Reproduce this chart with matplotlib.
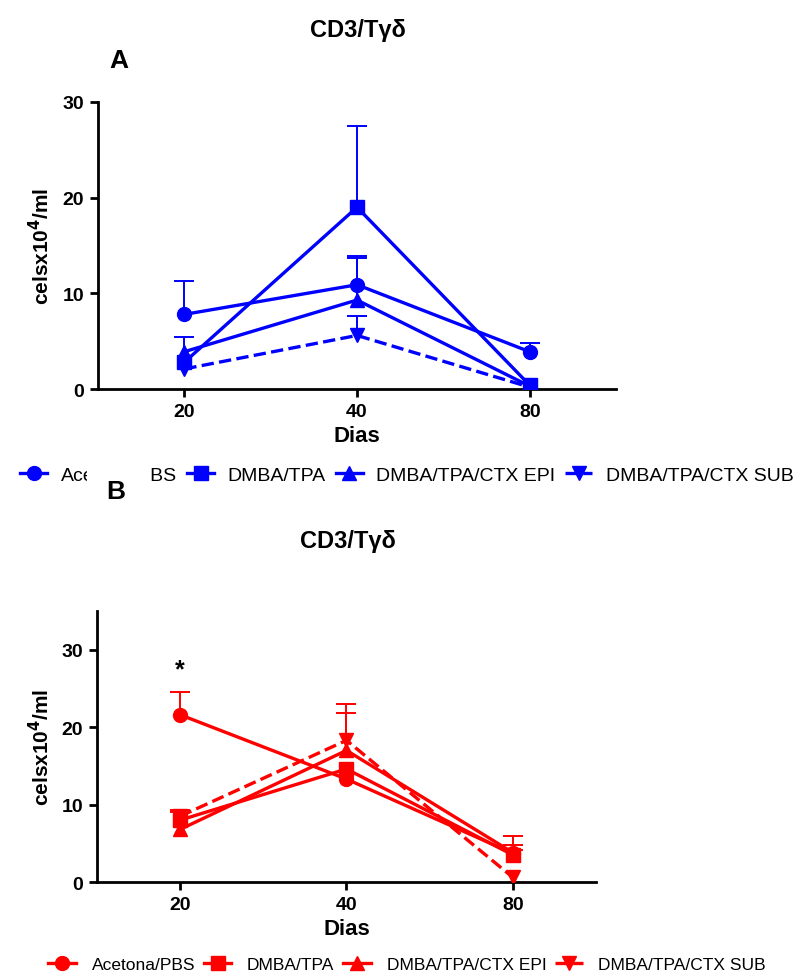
import numpy as np
import matplotlib
matplotlib.use("Agg")
import matplotlib.pyplot as plt
from matplotlib.lines import Line2D
from matplotlib.patches import Rectangle

plt.rcParams['font.family'] = ['Liberation Sans', 'DejaVu Sans']

days = ["20", "40", "80"]
groups = ["Acetona/PBS", "DMBA/TPA", "DMBA/TPA/CTX EPI", "DMBA/TPA/CTX SUB"]
markers = ["o", "s", "^", "v"]
styles = ["-", "-", "-", "--"]

# panel A (blue)
a_mean = [[7.8, 10.9, 3.9],
          [2.8, 19.0, 0.4],
          [3.9, 9.3, 0.3],
          [2.1, 5.6, 0.2]]
a_err = [[3.5, 3.0, 0.9],
         [0.0, 8.5, 0.0],
         [1.5, 4.4, 0.0],
         [0.0, 2.0, 0.0]]

# panel B (red)
b_mean = [[21.6, 13.3, 3.7],
          [8.0, 14.6, 3.5],
          [6.8, 17.0, 3.8],
          [8.5, 18.3, 0.6]]
b_err = [[2.9, 0.0, 1.1],
         [1.3, 0.0, 0.6],
         [0.0, 4.8, 2.2],
         [0.5, 4.7, 0.0]]

title = "CD3/T\u03b3\u03b4"
ylabel = "celsx10$\\mathbf{^4}$/ml"


def draw_panel(ax, means, errs, color, ymax):
    x = np.arange(len(days))
    for m, e, mk, ls in zip(means, errs, markers, styles):
        m = np.array(m)
        e = np.array(e)
        top = m + e
        has = e > 0
        # upper error bars only
        ax.vlines(x[has], m[has], top[has], color=color, lw=1.4, zorder=2)
        ax.plot(x[has], top[has], ls="none", marker="_", ms=14, mew=1.4,
                color=color, zorder=2)
        ax.plot(x, m, color=color, ls=ls, lw=2.4, marker=mk, ms=10, zorder=3)
    ax.set_xlim(-0.5, 2.5)
    ax.set_ylim(0, ymax)
    ax.set_yticks([0, 10, 20, 30])
    ax.set_xticks(x)
    ax.set_xticklabels(days)
    for s in ["top", "right"]:
        ax.spines[s].set_visible(False)
    for s in ["left", "bottom"]:
        ax.spines[s].set_linewidth(2)
    ax.tick_params(width=2, length=6, labelsize=14, pad=4)
    for lab in ax.get_xticklabels() + ax.get_yticklabels():
        lab.set_fontweight("bold")
    ax.set_xlabel("Dias", fontsize=16, fontweight="bold", labelpad=4)
    ax.set_ylabel(ylabel, fontsize=15, fontweight="bold")


def legend_handles(color):
    return [Line2D([0], [0], color=color, ls=ls, lw=2.4, marker=mk, ms=10)
            for mk, ls in zip(markers, styles)]


fig = plt.figure(figsize=(8.06, 9.78), dpi=100)

ax1 = fig.add_axes([0.1216, 0.6012, 0.6427, 0.2935])
draw_panel(ax1, a_mean, a_err, "#0000ff", 30)
ax1.yaxis.set_label_coords(-0.087, 0.5)
fig.text(0.444, 0.969, title, fontsize=17, fontweight="bold", ha="center", va="center")
fig.text(0.147, 0.938, "A", fontsize=19, fontweight="bold", ha="center", va="center")

ax2 = fig.add_axes([0.1203, 0.0971, 0.6192, 0.2771])
draw_panel(ax2, b_mean, b_err, "#ff0000", 35)
ax2.yaxis.set_label_coords(-0.088, 0.5)
ax2.text(0, 27.5, "*", fontsize=18, fontweight="bold", ha="center", va="center")
fig.text(0.432, 0.446, title, fontsize=17, fontweight="bold", ha="center", va="center")

fig.legend(legend_handles("#0000ff"), groups, bbox_to_anchor=(0.505, 0.513),
           loc="center", ncol=4, frameon=False, fontsize=14,
           handlelength=1.4, columnspacing=0.5, handletextpad=0.7)
fig.legend(legend_handles("#ff0000"), groups, bbox_to_anchor=(0.505, 0.013),
           loc="center", ncol=4, frameon=False, fontsize=12.5,
           handlelength=1.6, columnspacing=0.5, handletextpad=0.9)

# the "B" label sits on top of the first legend entry
fig.patches.append(Rectangle((0.108, 0.478), 0.078, 0.048, transform=fig.transFigure,
                             facecolor="white", edgecolor="none", zorder=10))
fig.text(0.144, 0.497, "B", fontsize=19, fontweight="bold", ha="center", va="center",
         zorder=11)

fig.savefig("out.png", dpi=100)
